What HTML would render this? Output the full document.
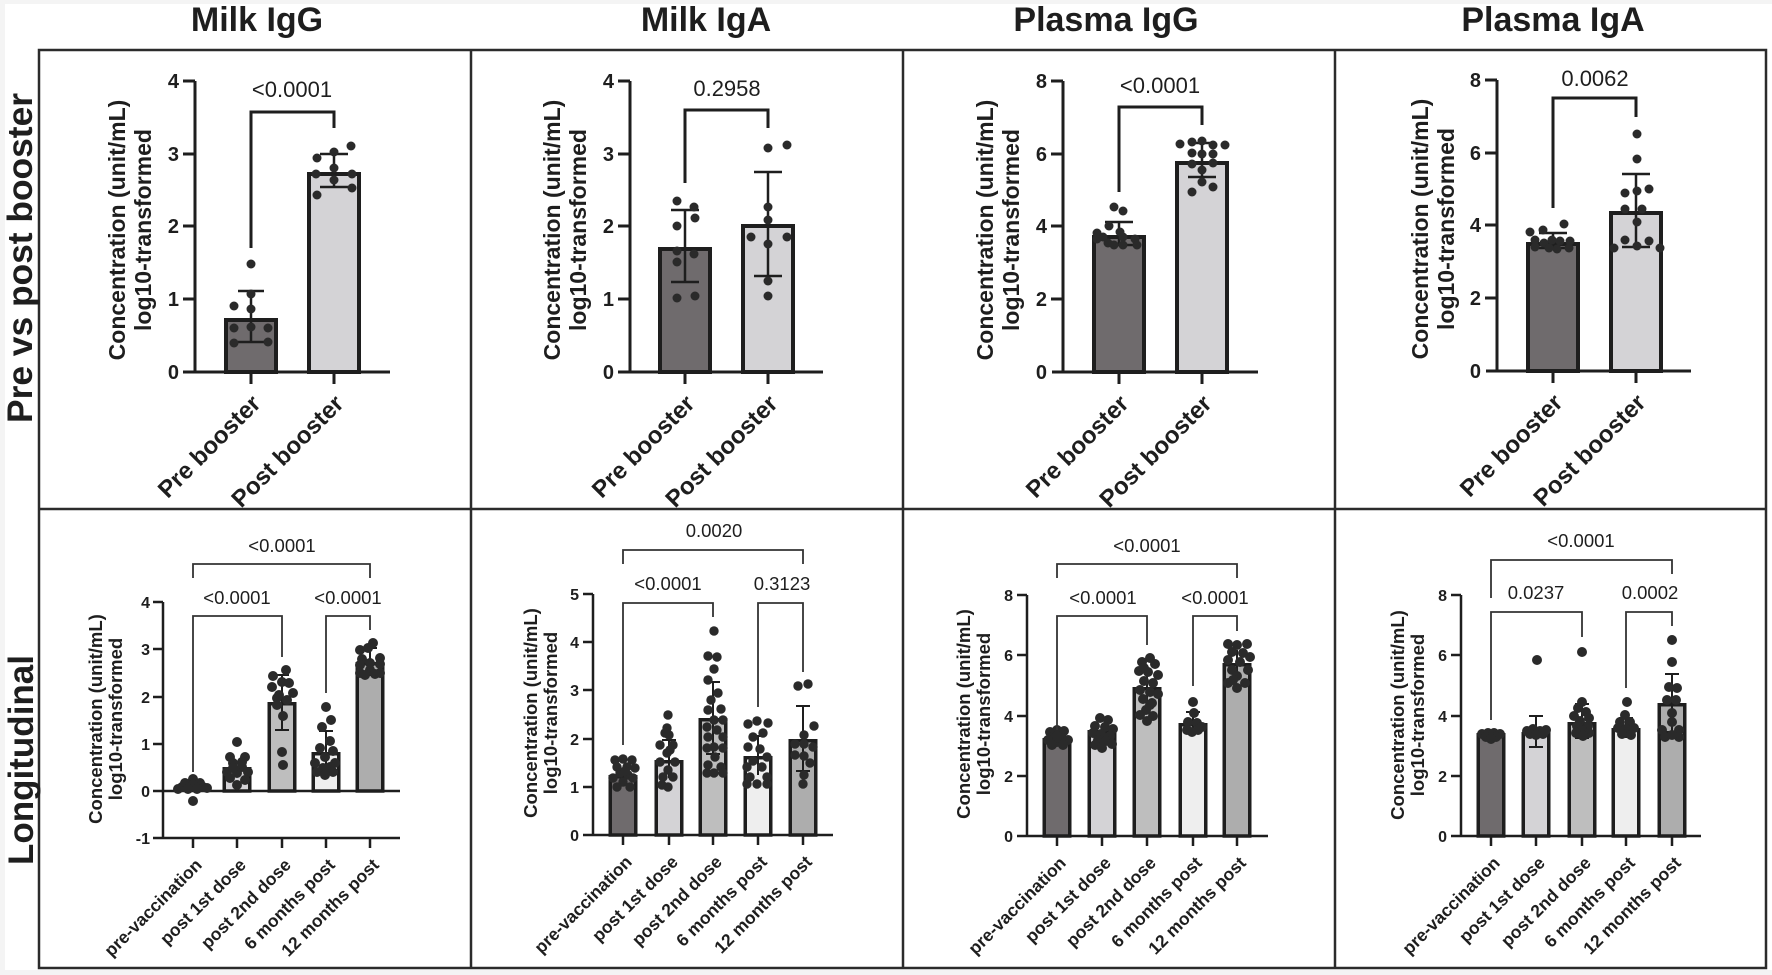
<!DOCTYPE html>
<html><head><meta charset="utf-8"><style>
html,body{margin:0;padding:0;background:#f4f4f4;}
svg{display:block;}
text{font-family:"Liberation Sans",Arial,sans-serif;fill:#1e1e1e;}
.t{font-weight:bold;font-size:34px;}
.rl{font-weight:bold;font-size:35px;}
.yt{font-weight:bold;font-size:23px;}
.yb{font-weight:bold;font-size:18.5px;}
.tk{font-weight:bold;font-size:20px;}
.tkb{font-weight:bold;font-size:16px;}
.cl{font-weight:bold;font-size:24px;}
.clb{font-weight:bold;font-size:17.5px;}
.p{font-size:22px;}
.pb{font-size:18.5px;}
.ax{stroke:#1e1e1e;stroke-width:3;fill:none;}
.axb{stroke:#1e1e1e;stroke-width:2.5;fill:none;}
.br{stroke:#1e1e1e;stroke-width:3;fill:none;}
.brb{stroke:#333;stroke-width:1.8;fill:none;}
.bar{stroke:#1e1e1e;stroke-width:4;}
.barb{stroke:#1e1e1e;stroke-width:3.5;}
.eb{stroke:#1e1e1e;stroke-width:2.5;fill:none;}
.ebb{stroke:#1e1e1e;stroke-width:2;fill:none;}
.d circle{fill:#2a2a2a;}
</style></head><body>
<svg width="1772" height="975" viewBox="0 0 1772 975" xmlns="http://www.w3.org/2000/svg">
<rect x="5" y="4" width="1767" height="966" fill="#ffffff"/>
<!-- grid -->
<rect x="39" y="50" width="1727" height="918" fill="none" stroke="#2b2b2b" stroke-width="2.5"/>
<line x1="39" y1="509" x2="1766" y2="509" stroke="#2b2b2b" stroke-width="2.5"/>
<line x1="471" y1="50" x2="471" y2="968" stroke="#2b2b2b" stroke-width="2.5"/>
<line x1="903" y1="50" x2="903" y2="968" stroke="#2b2b2b" stroke-width="2.5"/>
<line x1="1335" y1="50" x2="1335" y2="968" stroke="#2b2b2b" stroke-width="2.5"/>

<!-- column titles -->
<text class="t" x="257" y="31" text-anchor="middle">Milk IgG</text>
<text class="t" x="706" y="31" text-anchor="middle">Milk IgA</text>
<text class="t" x="1106" y="31" text-anchor="middle">Plasma IgG</text>
<text class="t" x="1553" y="31" text-anchor="middle">Plasma IgA</text>

<!-- row labels -->
<text class="rl" transform="translate(32,258) rotate(-90)" text-anchor="middle" textLength="330" lengthAdjust="spacingAndGlyphs">Pre vs post booster</text>
<text class="rl" transform="translate(33,760) rotate(-90)" text-anchor="middle" textLength="210" lengthAdjust="spacingAndGlyphs">Longitudinal</text>

<!-- ===================== TOP ROW ===================== -->
<!-- Panel A: Milk IgG -->
<g>
<text class="yt" transform="translate(125,230) rotate(-90)" text-anchor="middle">Concentration (unit/mL)</text>
<text class="yt" transform="translate(151,230) rotate(-90)" text-anchor="middle">log10-transformed</text>
<rect class="bar" x="226" y="320" width="50" height="52" fill="#6f6b6d"/>
<rect class="bar" x="309" y="174" width="50" height="198" fill="#d4d3d6"/>
<path class="ax" d="M195,81 V372 M183,81 H195 M183,154 H195 M183,226 H195 M183,299 H195 M183,372 H390 M251,372 V384 M334,372 V384"/>
<text class="tk" x="179" y="88" text-anchor="end">4</text>
<text class="tk" x="179" y="161" text-anchor="end">3</text>
<text class="tk" x="179" y="233" text-anchor="end">2</text>
<text class="tk" x="179" y="306" text-anchor="end">1</text>
<text class="tk" x="179" y="379" text-anchor="end">0</text>
<path class="eb" d="M251,291 V342 M238,291 H264 M238,342 H264 M334,154 V187 M320,154 H348 M320,187 H348"/>
<g class="d">
<circle cx="251" cy="264" r="4.5"/><circle cx="234" cy="306" r="4.5"/><circle cx="251" cy="294" r="4.5"/><circle cx="251" cy="309" r="4.5"/><circle cx="251" cy="327" r="4.5"/><circle cx="234" cy="328" r="4.5"/><circle cx="268" cy="328" r="4.5"/><circle cx="234" cy="343" r="4.5"/><circle cx="268" cy="342" r="4.5"/>
<circle cx="351" cy="146" r="4.5"/><circle cx="334" cy="152" r="4.5"/><circle cx="317" cy="158" r="4.5"/><circle cx="334" cy="168" r="4.5"/><circle cx="316" cy="174" r="4.5"/><circle cx="352" cy="174" r="4.5"/><circle cx="334" cy="180" r="4.5"/><circle cx="352" cy="188" r="4.5"/><circle cx="317" cy="195" r="4.5"/>
</g>
<path class="br" d="M251,248 V112 H334 V128"/>
<text class="p" x="292" y="97" text-anchor="middle">&lt;0.0001</text>
<text class="cl" transform="translate(262,405) rotate(-45)" text-anchor="end">Pre booster</text>
<text class="cl" transform="translate(345,405) rotate(-45)" text-anchor="end">Post booster</text>
</g>

<!-- Panel B: Milk IgA -->
<g>
<text class="yt" transform="translate(560,230) rotate(-90)" text-anchor="middle">Concentration (unit/mL)</text>
<text class="yt" transform="translate(586,230) rotate(-90)" text-anchor="middle">log10-transformed</text>
<rect class="bar" x="660" y="249" width="50" height="123" fill="#6f6b6d"/>
<rect class="bar" x="743" y="226" width="50" height="146" fill="#d4d3d6"/>
<path class="ax" d="M630,81 V372 M618,81 H630 M618,154 H630 M618,226 H630 M618,299 H630 M618,372 H823 M685,372 V384 M768,372 V384"/>
<text class="tk" x="614" y="88" text-anchor="end">4</text>
<text class="tk" x="614" y="161" text-anchor="end">3</text>
<text class="tk" x="614" y="233" text-anchor="end">2</text>
<text class="tk" x="614" y="306" text-anchor="end">1</text>
<text class="tk" x="614" y="379" text-anchor="end">0</text>
<path class="eb" d="M685,210 V282 M671,210 H699 M671,282 H699 M768,172 V276 M754,172 H782 M754,276 H782"/>
<g class="d">
<circle cx="677" cy="201" r="4.5"/><circle cx="694" cy="207" r="4.5"/><circle cx="695" cy="218" r="4.5"/><circle cx="677" cy="226" r="4.5"/><circle cx="677" cy="251" r="4.5"/><circle cx="694" cy="254" r="4.5"/><circle cx="677" cy="262" r="4.5"/><circle cx="677" cy="298" r="4.5"/><circle cx="695" cy="296" r="4.5"/>
<circle cx="768" cy="148" r="4.5"/><circle cx="787" cy="145" r="4.5"/><circle cx="768" cy="207" r="4.5"/><circle cx="768" cy="220" r="4.5"/><circle cx="751" cy="237" r="4.5"/><circle cx="787" cy="237" r="4.5"/><circle cx="768" cy="244" r="4.5"/><circle cx="768" cy="281" r="4.5"/><circle cx="768" cy="296" r="4.5"/>
</g>
<path class="br" d="M685,183 V110 H768 V128"/>
<text class="p" x="727" y="96" text-anchor="middle">0.2958</text>
<text class="cl" transform="translate(696,405) rotate(-45)" text-anchor="end">Pre booster</text>
<text class="cl" transform="translate(779,405) rotate(-45)" text-anchor="end">Post booster</text>
</g>

<!-- Panel C: Plasma IgG -->
<g>
<text class="yt" transform="translate(993,230) rotate(-90)" text-anchor="middle">Concentration (unit/mL)</text>
<text class="yt" transform="translate(1019,230) rotate(-90)" text-anchor="middle">log10-transformed</text>
<rect class="bar" x="1094" y="237" width="50" height="135" fill="#6f6b6d"/>
<rect class="bar" x="1177" y="163" width="50" height="209" fill="#d4d3d6"/>
<path class="ax" d="M1063,81 V372 M1051,81 H1063 M1051,154 H1063 M1051,226 H1063 M1051,299 H1063 M1052,372 H1258 M1119,372 V384 M1202,372 V384"/>
<text class="tk" x="1047" y="88" text-anchor="end">8</text>
<text class="tk" x="1047" y="161" text-anchor="end">6</text>
<text class="tk" x="1047" y="233" text-anchor="end">4</text>
<text class="tk" x="1047" y="306" text-anchor="end">2</text>
<text class="tk" x="1047" y="379" text-anchor="end">0</text>
<path class="eb" d="M1119,222 V245 M1105,222 H1133 M1105,245 H1133 M1202,143 V177 M1188,143 H1216 M1188,177 H1216"/>
<g class="d">
<circle cx="1114" cy="207" r="4.5"/><circle cx="1123" cy="211" r="4.5"/><circle cx="1109" cy="226" r="4.5"/><circle cx="1120" cy="232" r="4.5"/><circle cx="1097" cy="233" r="4.5"/><circle cx="1103" cy="237" r="4.5"/><circle cx="1123" cy="237" r="4.5"/><circle cx="1135" cy="239" r="4.5"/><circle cx="1108" cy="243" r="4.5"/><circle cx="1123" cy="245" r="4.5"/><circle cx="1137" cy="245" r="4.5"/><circle cx="1097" cy="239" r="4.5"/><circle cx="1114" cy="245" r="4.5"/>
<circle cx="1180" cy="144" r="4.5"/><circle cx="1192" cy="142" r="4.5"/><circle cx="1202" cy="141" r="4.5"/><circle cx="1213" cy="145" r="4.5"/><circle cx="1225" cy="145" r="4.5"/><circle cx="1192" cy="153" r="4.5"/><circle cx="1202" cy="154" r="4.5"/><circle cx="1213" cy="154" r="4.5"/><circle cx="1192" cy="164" r="4.5"/><circle cx="1213" cy="163" r="4.5"/><circle cx="1202" cy="170" r="4.5"/><circle cx="1192" cy="192" r="4.5"/><circle cx="1213" cy="187" r="4.5"/><circle cx="1202" cy="182" r="4.5"/>
</g>
<path class="br" d="M1119,192 V107 H1202 V125"/>
<text class="p" x="1160" y="93" text-anchor="middle">&lt;0.0001</text>
<text class="cl" transform="translate(1130,405) rotate(-45)" text-anchor="end">Pre booster</text>
<text class="cl" transform="translate(1213,405) rotate(-45)" text-anchor="end">Post booster</text>
</g>

<!-- Panel D: Plasma IgA -->
<g>
<text class="yt" transform="translate(1428,229) rotate(-90)" text-anchor="middle">Concentration (unit/mL)</text>
<text class="yt" transform="translate(1454,229) rotate(-90)" text-anchor="middle">log10-transformed</text>
<rect class="bar" x="1528" y="244" width="50" height="127" fill="#6f6b6d"/>
<rect class="bar" x="1611" y="213" width="50" height="158" fill="#d4d3d6"/>
<path class="ax" d="M1497,80 V371 M1485,80 H1497 M1485,153 H1497 M1485,225 H1497 M1485,298 H1497 M1486,371 H1691 M1553,371 V383 M1636,371 V383"/>
<text class="tk" x="1481" y="87" text-anchor="end">8</text>
<text class="tk" x="1481" y="160" text-anchor="end">6</text>
<text class="tk" x="1481" y="232" text-anchor="end">4</text>
<text class="tk" x="1481" y="305" text-anchor="end">2</text>
<text class="tk" x="1481" y="378" text-anchor="end">0</text>
<path class="eb" d="M1553,233 V248 M1539,233 H1567 M1539,248 H1567 M1636,174 V247 M1622,174 H1650 M1622,247 H1650"/>
<g class="d">
<circle cx="1530" cy="232" r="4.5"/><circle cx="1543" cy="230" r="4.5"/><circle cx="1564" cy="224" r="4.5"/><circle cx="1535" cy="240" r="4.5"/><circle cx="1544" cy="243" r="4.5"/><circle cx="1552" cy="240" r="4.5"/><circle cx="1560" cy="241" r="4.5"/><circle cx="1570" cy="241" r="4.5"/><circle cx="1535" cy="247" r="4.5"/><circle cx="1557" cy="249" r="4.5"/><circle cx="1569" cy="248" r="4.5"/><circle cx="1549" cy="248" r="4.5"/>
<circle cx="1637" cy="134" r="4.5"/><circle cx="1637" cy="159" r="4.5"/><circle cx="1625" cy="193" r="4.5"/><circle cx="1637" cy="191" r="4.5"/><circle cx="1649" cy="189" r="4.5"/><circle cx="1625" cy="209" r="4.5"/><circle cx="1642" cy="209" r="4.5"/><circle cx="1637" cy="222" r="4.5"/><circle cx="1625" cy="240" r="4.5"/><circle cx="1649" cy="241" r="4.5"/><circle cx="1614" cy="248" r="4.5"/><circle cx="1660" cy="248" r="4.5"/><circle cx="1637" cy="246" r="4.5"/>
</g>
<path class="br" d="M1553,208 V98 H1636 V117"/>
<text class="p" x="1595" y="86" text-anchor="middle">0.0062</text>
<text class="cl" transform="translate(1564,404) rotate(-45)" text-anchor="end">Pre booster</text>
<text class="cl" transform="translate(1647,404) rotate(-45)" text-anchor="end">Post booster</text>
</g>

<!-- ===================== BOTTOM ROW ===================== -->
<!-- Panel E: Milk IgG longitudinal -->
<g>
<text class="yb" transform="translate(102,719) rotate(-90)" text-anchor="middle">Concentration (unit/mL)</text>
<text class="yb" transform="translate(122,719) rotate(-90)" text-anchor="middle">log10-transformed</text>
<rect class="barb" x="224.25" y="768.75" width="25.5" height="22.25" fill="#d4d3d6"/>
<rect class="barb" x="269.25" y="703.75" width="25.5" height="87.25" fill="#bebebe"/>
<rect class="barb" x="313.25" y="753.75" width="25.5" height="37.25" fill="#eeeeee"/>
<rect class="barb" x="357.25" y="663.75" width="25.5" height="127.25" fill="#adadad"/>
<path class="axb" d="M163,602 V838 M153,602 H163 M153,649 H163 M153,697 H163 M153,744 H163 M153,791 H400 M153,838 H400 M193,838 V848 M237,838 V848 M282,838 V848 M326,838 V848 M370,838 V848"/>
<text class="tkb" x="150" y="608" text-anchor="end">4</text>
<text class="tkb" x="150" y="655" text-anchor="end">3</text>
<text class="tkb" x="150" y="703" text-anchor="end">2</text>
<text class="tkb" x="150" y="750" text-anchor="end">1</text>
<text class="tkb" x="150" y="797" text-anchor="end">0</text>
<text class="tkb" x="150" y="844" text-anchor="end">-1</text>
<path class="ebb" d="M282,675 V730 M275,675 H289 M275,730 H289 M326,731 V772 M319,731 H333 M319,772 H333 M370,648 V675 M363,648 H377 M363,675 H377"/>
<g class="d">
<circle cx="182" cy="787" r="5"/><circle cx="193" cy="779" r="5"/><circle cx="203" cy="787" r="5"/><circle cx="185" cy="783" r="5"/><circle cx="200" cy="783" r="5"/><circle cx="193" cy="801" r="5"/><circle cx="193" cy="785" r="5"/><circle cx="197" cy="789" r="5"/><circle cx="188" cy="789" r="5"/><circle cx="178" cy="789" r="5"/><circle cx="207" cy="788" r="5"/>
<circle cx="237" cy="742" r="5"/><circle cx="230" cy="757" r="5"/><circle cx="245" cy="757" r="5"/><circle cx="233" cy="763" r="5"/><circle cx="242" cy="767" r="5"/><circle cx="227" cy="772" r="5"/><circle cx="248" cy="772" r="5"/><circle cx="237" cy="773" r="5"/><circle cx="230" cy="778" r="5"/><circle cx="245" cy="780" r="5"/><circle cx="237" cy="785" r="5"/><circle cx="233" cy="768" r="5"/><circle cx="242" cy="762" r="5"/>
<circle cx="286" cy="670" r="5"/><circle cx="273" cy="676" r="5"/><circle cx="282" cy="682" r="5"/><circle cx="289" cy="683" r="5"/><circle cx="272" cy="687" r="5"/><circle cx="293" cy="693" r="5"/><circle cx="279" cy="695" r="5"/><circle cx="287" cy="700" r="5"/><circle cx="277" cy="705" r="5"/><circle cx="283" cy="716" r="5"/><circle cx="282" cy="752" r="5"/><circle cx="283" cy="765" r="5"/><circle cx="277" cy="698" r="5"/>
<circle cx="326" cy="707" r="5"/><circle cx="331" cy="720" r="5"/><circle cx="322" cy="727" r="5"/><circle cx="330" cy="741" r="5"/><circle cx="320" cy="748" r="5"/><circle cx="333" cy="751" r="5"/><circle cx="325" cy="757" r="5"/><circle cx="315" cy="763" r="5"/><circle cx="335" cy="763" r="5"/><circle cx="323" cy="768" r="5"/><circle cx="330" cy="767" r="5"/><circle cx="317" cy="772" r="5"/><circle cx="333" cy="772" r="5"/><circle cx="325" cy="775" r="5"/>
<circle cx="373" cy="643" r="5"/><circle cx="360" cy="650" r="5"/><circle cx="368" cy="648" r="5"/><circle cx="380" cy="658" r="5"/><circle cx="362" cy="659" r="5"/><circle cx="370" cy="663" r="5"/><circle cx="380" cy="664" r="5"/><circle cx="360" cy="665" r="5"/><circle cx="370" cy="670" r="5"/><circle cx="360" cy="673" r="5"/><circle cx="375" cy="674" r="5"/><circle cx="365" cy="675" r="5"/><circle cx="380" cy="673" r="5"/>
</g>
<path class="brb" d="M193,578 V564 H370 V578 M193,772 V616 H282 V657 M326,693 V616 H370 V630"/>
<text class="pb" x="282" y="552" text-anchor="middle">&lt;0.0001</text>
<text class="pb" x="237" y="604" text-anchor="middle">&lt;0.0001</text>
<text class="pb" x="348" y="604" text-anchor="middle">&lt;0.0001</text>
<text class="clb" transform="translate(203,866) rotate(-45)" text-anchor="end">pre-vaccination</text>
<text class="clb" transform="translate(247,866) rotate(-45)" text-anchor="end">post 1st dose</text>
<text class="clb" transform="translate(292,866) rotate(-45)" text-anchor="end">post 2nd dose</text>
<text class="clb" transform="translate(336,866) rotate(-45)" text-anchor="end">6 months post</text>
<text class="clb" transform="translate(380,866) rotate(-45)" text-anchor="end">12 months post</text>
</g>

<!-- Panel F: Milk IgA longitudinal -->
<g>
<text class="yb" transform="translate(537,713) rotate(-90)" text-anchor="middle">Concentration (unit/mL)</text>
<text class="yb" transform="translate(557,713) rotate(-90)" text-anchor="middle">log10-transformed</text>
<rect class="barb" x="610.25" y="776.75" width="25.5" height="58.25" fill="#6f6b6d"/>
<rect class="barb" x="656.25" y="761.75" width="25.5" height="73.25" fill="#d4d3d6"/>
<rect class="barb" x="700.25" y="719.75" width="25.5" height="115.25" fill="#bebebe"/>
<rect class="barb" x="745.25" y="757.75" width="25.5" height="77.25" fill="#eeeeee"/>
<rect class="barb" x="790.25" y="740.75" width="25.5" height="94.25" fill="#adadad"/>
<path class="axb" d="M593,594 V835 M583,594 H593 M583,642 H593 M583,690 H593 M583,739 H593 M583,787 H593 M583,835 H833 M623,835 V845 M669,835 V845 M713,835 V845 M758,835 V845 M803,835 V845"/>
<text class="tkb" x="579" y="600" text-anchor="end">5</text>
<text class="tkb" x="579" y="648" text-anchor="end">4</text>
<text class="tkb" x="579" y="696" text-anchor="end">3</text>
<text class="tkb" x="579" y="745" text-anchor="end">2</text>
<text class="tkb" x="579" y="793" text-anchor="end">1</text>
<text class="tkb" x="579" y="841" text-anchor="end">0</text>
<path class="ebb" d="M669,740 V778 M662,740 H676 M713,682 V754 M706,682 H720 M706,754 H720 M758,736 V775 M751,736 H765 M803,706 V771 M796,706 H810 M796,771 H810"/>
<g class="d">
<circle cx="615" cy="760" r="4.7"/><circle cx="623" cy="759" r="4.7"/><circle cx="632" cy="760" r="4.7"/><circle cx="617" cy="767" r="4.7"/><circle cx="627" cy="767" r="4.7"/><circle cx="635" cy="768" r="4.7"/><circle cx="620" cy="773" r="4.7"/><circle cx="628" cy="775" r="4.7"/><circle cx="613" cy="778" r="4.7"/><circle cx="633" cy="778" r="4.7"/><circle cx="623" cy="782" r="4.7"/><circle cx="617" cy="787" r="4.7"/><circle cx="630" cy="787" r="4.7"/><circle cx="625" cy="771" r="4.7"/>
<circle cx="668" cy="715" r="4.7"/><circle cx="667" cy="728" r="4.7"/><circle cx="669" cy="735" r="4.7"/><circle cx="660" cy="745" r="4.7"/><circle cx="673" cy="745" r="4.7"/><circle cx="667" cy="753" r="4.7"/><circle cx="660" cy="762" r="4.7"/><circle cx="675" cy="762" r="4.7"/><circle cx="668" cy="770" r="4.7"/><circle cx="663" cy="777" r="4.7"/><circle cx="673" cy="777" r="4.7"/><circle cx="662" cy="785" r="4.7"/><circle cx="668" cy="787" r="4.7"/><circle cx="665" cy="733" r="4.7"/><circle cx="670" cy="750" r="4.7"/>
<circle cx="714" cy="631" r="4.7"/><circle cx="708" cy="656" r="4.7"/><circle cx="717" cy="657" r="4.7"/><circle cx="714" cy="669" r="4.7"/><circle cx="708" cy="680" r="4.7"/><circle cx="718" cy="693" r="4.7"/><circle cx="711" cy="700" r="4.7"/><circle cx="721" cy="709" r="4.7"/><circle cx="708" cy="710" r="4.7"/><circle cx="714" cy="720" r="4.7"/><circle cx="723" cy="720" r="4.7"/><circle cx="707" cy="727" r="4.7"/><circle cx="717" cy="730" r="4.7"/><circle cx="708" cy="737" r="4.7"/><circle cx="723" cy="737" r="4.7"/><circle cx="714" cy="747" r="4.7"/><circle cx="707" cy="748" r="4.7"/><circle cx="723" cy="748" r="4.7"/><circle cx="715" cy="757" r="4.7"/><circle cx="708" cy="765" r="4.7"/><circle cx="721" cy="767" r="4.7"/><circle cx="714" cy="773" r="4.7"/><circle cx="707" cy="773" r="4.7"/><circle cx="723" cy="773" r="4.7"/>
<circle cx="748" cy="724" r="4.7"/><circle cx="757" cy="721" r="4.7"/><circle cx="768" cy="723" r="4.7"/><circle cx="763" cy="733" r="4.7"/><circle cx="753" cy="737" r="4.7"/><circle cx="748" cy="747" r="4.7"/><circle cx="760" cy="749" r="4.7"/><circle cx="767" cy="757" r="4.7"/><circle cx="753" cy="761" r="4.7"/><circle cx="747" cy="767" r="4.7"/><circle cx="762" cy="767" r="4.7"/><circle cx="750" cy="777" r="4.7"/><circle cx="767" cy="777" r="4.7"/><circle cx="757" cy="784" r="4.7"/><circle cx="767" cy="784" r="4.7"/><circle cx="747" cy="784" r="4.7"/>
<circle cx="798" cy="686" r="4.7"/><circle cx="808" cy="684" r="4.7"/><circle cx="814" cy="726" r="4.7"/><circle cx="804" cy="735" r="4.7"/><circle cx="795" cy="744" r="4.7"/><circle cx="804" cy="744" r="4.7"/><circle cx="813" cy="747" r="4.7"/><circle cx="795" cy="755" r="4.7"/><circle cx="804" cy="756" r="4.7"/><circle cx="810" cy="763" r="4.7"/><circle cx="804" cy="775" r="4.7"/><circle cx="803" cy="784" r="4.7"/>
</g>
<path class="brb" d="M623,564 V550 H803 V564 M623,745 V603 H713 V617 M758,707 V603 H803 V672"/>
<text class="pb" x="714" y="537" text-anchor="middle">0.0020</text>
<text class="pb" x="668" y="590" text-anchor="middle">&lt;0.0001</text>
<text class="pb" x="782" y="590" text-anchor="middle">0.3123</text>
<text class="clb" transform="translate(633,863) rotate(-45)" text-anchor="end">pre-vaccination</text>
<text class="clb" transform="translate(679,863) rotate(-45)" text-anchor="end">post 1st dose</text>
<text class="clb" transform="translate(723,863) rotate(-45)" text-anchor="end">post 2nd dose</text>
<text class="clb" transform="translate(768,863) rotate(-45)" text-anchor="end">6 months post</text>
<text class="clb" transform="translate(813,863) rotate(-45)" text-anchor="end">12 months post</text>
</g>

<!-- Panel G: Plasma IgG longitudinal -->
<g>
<text class="yb" transform="translate(970,714) rotate(-90)" text-anchor="middle">Concentration (unit/mL)</text>
<text class="yb" transform="translate(990,714) rotate(-90)" text-anchor="middle">log10-transformed</text>
<rect class="barb" x="1044.25" y="739.75" width="25.5" height="96.25" fill="#6f6b6d"/>
<rect class="barb" x="1089.25" y="731.75" width="25.5" height="104.25" fill="#d4d3d6"/>
<rect class="barb" x="1134.25" y="688.75" width="25.5" height="147.25" fill="#bebebe"/>
<rect class="barb" x="1180.25" y="724.75" width="25.5" height="111.25" fill="#eeeeee"/>
<rect class="barb" x="1224.25" y="664.75" width="25.5" height="171.25" fill="#adadad"/>
<path class="axb" d="M1027,595 V836 M1017,595 H1027 M1017,655 H1027 M1017,716 H1027 M1017,776 H1027 M1017,836 H1268 M1057,836 V846 M1102,836 V846 M1147,836 V846 M1193,836 V846 M1237,836 V846"/>
<text class="tkb" x="1013" y="601" text-anchor="end">8</text>
<text class="tkb" x="1013" y="661" text-anchor="end">6</text>
<text class="tkb" x="1013" y="722" text-anchor="end">4</text>
<text class="tkb" x="1013" y="782" text-anchor="end">2</text>
<text class="tkb" x="1013" y="842" text-anchor="end">0</text>
<path class="ebb" d="M1147,672 V702 M1193,712 V735 M1186,712 H1200 M1237,650 V677"/>
<g class="d">
<circle cx="1050" cy="732" r="5"/><circle cx="1057" cy="730" r="5"/><circle cx="1064" cy="731" r="5"/><circle cx="1053" cy="737" r="5"/><circle cx="1062" cy="738" r="5"/><circle cx="1048" cy="740" r="5"/><circle cx="1068" cy="740" r="5"/><circle cx="1057" cy="742" r="5"/><circle cx="1052" cy="745" r="5"/><circle cx="1063" cy="745" r="5"/><circle cx="1057" cy="736" r="5"/>
<circle cx="1100" cy="718" r="5"/><circle cx="1108" cy="720" r="5"/><circle cx="1095" cy="726" r="5"/><circle cx="1105" cy="727" r="5"/><circle cx="1113" cy="729" r="5"/><circle cx="1093" cy="733" r="5"/><circle cx="1101" cy="734" r="5"/><circle cx="1110" cy="736" r="5"/><circle cx="1098" cy="740" r="5"/><circle cx="1106" cy="741" r="5"/><circle cx="1095" cy="745" r="5"/><circle cx="1112" cy="744" r="5"/><circle cx="1102" cy="748" r="5"/>
<circle cx="1150" cy="658" r="5"/><circle cx="1142" cy="662" r="5"/><circle cx="1155" cy="664" r="5"/><circle cx="1139" cy="671" r="5"/><circle cx="1148" cy="672" r="5"/><circle cx="1158" cy="675" r="5"/><circle cx="1144" cy="681" r="5"/><circle cx="1153" cy="683" r="5"/><circle cx="1140" cy="690" r="5"/><circle cx="1150" cy="692" r="5"/><circle cx="1158" cy="694" r="5"/><circle cx="1143" cy="699" r="5"/><circle cx="1152" cy="703" r="5"/><circle cx="1146" cy="710" r="5"/><circle cx="1140" cy="715" r="5"/><circle cx="1153" cy="716" r="5"/><circle cx="1147" cy="721" r="5"/><circle cx="1150" cy="705" r="5"/><circle cx="1144" cy="668" r="5"/>
<circle cx="1193" cy="702" r="5"/><circle cx="1194" cy="713" r="5"/><circle cx="1188" cy="722" r="5"/><circle cx="1197" cy="723" r="5"/><circle cx="1187" cy="730" r="5"/><circle cx="1202" cy="727" r="5"/><circle cx="1192" cy="732" r="5"/><circle cx="1198" cy="730" r="5"/>
<circle cx="1228" cy="644" r="5"/><circle cx="1237" cy="645" r="5"/><circle cx="1247" cy="644" r="5"/><circle cx="1232" cy="652" r="5"/><circle cx="1243" cy="653" r="5"/><circle cx="1250" cy="657" r="5"/><circle cx="1228" cy="660" r="5"/><circle cx="1240" cy="662" r="5"/><circle cx="1232" cy="670" r="5"/><circle cx="1248" cy="670" r="5"/><circle cx="1237" cy="676" r="5"/><circle cx="1228" cy="683" r="5"/><circle cx="1245" cy="683" r="5"/><circle cx="1237" cy="688" r="5"/><circle cx="1233" cy="680" r="5"/>
</g>
<path class="brb" d="M1057,578 V564 H1237 V578 M1057,730 V616 H1147 V645 M1193,686 V616 H1237 V631"/>
<text class="pb" x="1147" y="552" text-anchor="middle">&lt;0.0001</text>
<text class="pb" x="1103" y="604" text-anchor="middle">&lt;0.0001</text>
<text class="pb" x="1215" y="604" text-anchor="middle">&lt;0.0001</text>
<text class="clb" transform="translate(1067,864) rotate(-45)" text-anchor="end">pre-vaccination</text>
<text class="clb" transform="translate(1112,864) rotate(-45)" text-anchor="end">post 1st dose</text>
<text class="clb" transform="translate(1157,864) rotate(-45)" text-anchor="end">post 2nd dose</text>
<text class="clb" transform="translate(1203,864) rotate(-45)" text-anchor="end">6 months post</text>
<text class="clb" transform="translate(1247,864) rotate(-45)" text-anchor="end">12 months post</text>
</g>

<!-- Panel H: Plasma IgA longitudinal -->
<g>
<text class="yb" transform="translate(1404,715) rotate(-90)" text-anchor="middle">Concentration (unit/mL)</text>
<text class="yb" transform="translate(1424,715) rotate(-90)" text-anchor="middle">log10-transformed</text>
<rect class="barb" x="1478.25" y="734.75" width="25.5" height="101.25" fill="#6f6b6d"/>
<rect class="barb" x="1523.25" y="733.75" width="25.5" height="102.25" fill="#d4d3d6"/>
<rect class="barb" x="1569.25" y="723.75" width="25.5" height="112.25" fill="#bebebe"/>
<rect class="barb" x="1613.25" y="729.75" width="25.5" height="106.25" fill="#eeeeee"/>
<rect class="barb" x="1659.25" y="704.75" width="25.5" height="131.25" fill="#adadad"/>
<path class="axb" d="M1461,595 V836 M1451,595 H1461 M1451,655 H1461 M1451,716 H1461 M1451,776 H1461 M1451,836 H1701 M1491,836 V846 M1536,836 V846 M1582,836 V846 M1626,836 V846 M1672,836 V846"/>
<text class="tkb" x="1447" y="601" text-anchor="end">8</text>
<text class="tkb" x="1447" y="661" text-anchor="end">6</text>
<text class="tkb" x="1447" y="722" text-anchor="end">4</text>
<text class="tkb" x="1447" y="782" text-anchor="end">2</text>
<text class="tkb" x="1447" y="842" text-anchor="end">0</text>
<path class="ebb" d="M1536,716 V747 M1529,716 H1543 M1529,747 H1543 M1582,704 V738 M1575,704 H1589 M1575,738 H1589 M1626,718 V738 M1619,718 H1633 M1672,674 V732 M1665,674 H1679 M1665,732 H1679"/>
<g class="d">
<circle cx="1482" cy="734" r="5"/><circle cx="1488" cy="733" r="5"/><circle cx="1494" cy="733" r="5"/><circle cx="1500" cy="734" r="5"/><circle cx="1486" cy="737" r="5"/><circle cx="1496" cy="737" r="5"/><circle cx="1491" cy="739" r="5"/>
<circle cx="1537" cy="660" r="5"/><circle cx="1527" cy="731" r="5"/><circle cx="1533" cy="729" r="5"/><circle cx="1540" cy="731" r="5"/><circle cx="1546" cy="730" r="5"/><circle cx="1530" cy="734" r="5"/><circle cx="1543" cy="734" r="5"/><circle cx="1536" cy="735" r="5"/>
<circle cx="1582" cy="652" r="5"/><circle cx="1582" cy="702" r="5"/><circle cx="1578" cy="708" r="5"/><circle cx="1586" cy="712" r="5"/><circle cx="1574" cy="716" r="5"/><circle cx="1589" cy="718" r="5"/><circle cx="1580" cy="721" r="5"/><circle cx="1577" cy="726" r="5"/><circle cx="1588" cy="726" r="5"/><circle cx="1582" cy="730" r="5"/><circle cx="1576" cy="733" r="5"/><circle cx="1589" cy="733" r="5"/><circle cx="1583" cy="736" r="5"/>
<circle cx="1627" cy="702" r="5"/><circle cx="1625" cy="715" r="5"/><circle cx="1620" cy="722" r="5"/><circle cx="1630" cy="722" r="5"/><circle cx="1618" cy="728" r="5"/><circle cx="1626" cy="729" r="5"/><circle cx="1634" cy="728" r="5"/><circle cx="1622" cy="734" r="5"/><circle cx="1631" cy="735" r="5"/>
<circle cx="1672" cy="640" r="5"/><circle cx="1672" cy="662" r="5"/><circle cx="1669" cy="687" r="5"/><circle cx="1677" cy="688" r="5"/><circle cx="1667" cy="700" r="5"/><circle cx="1676" cy="700" r="5"/><circle cx="1672" cy="713" r="5"/><circle cx="1672" cy="722" r="5"/><circle cx="1662" cy="730" r="5"/><circle cx="1679" cy="730" r="5"/><circle cx="1665" cy="737" r="5"/><circle cx="1679" cy="737" r="5"/><circle cx="1672" cy="735" r="5"/>
</g>
<path class="brb" d="M1491,598 V560 H1672 V574 M1491,720 V612 H1582 V637 M1626,688 V612 H1672 V626"/>
<text class="pb" x="1581" y="547" text-anchor="middle">&lt;0.0001</text>
<text class="pb" x="1536" y="599" text-anchor="middle">0.0237</text>
<text class="pb" x="1650" y="599" text-anchor="middle">0.0002</text>
<text class="clb" transform="translate(1501,864) rotate(-45)" text-anchor="end">pre-vaccination</text>
<text class="clb" transform="translate(1546,864) rotate(-45)" text-anchor="end">post 1st dose</text>
<text class="clb" transform="translate(1592,864) rotate(-45)" text-anchor="end">post 2nd dose</text>
<text class="clb" transform="translate(1636,864) rotate(-45)" text-anchor="end">6 months post</text>
<text class="clb" transform="translate(1682,864) rotate(-45)" text-anchor="end">12 months post</text>
</g>
</svg>
</body></html>
